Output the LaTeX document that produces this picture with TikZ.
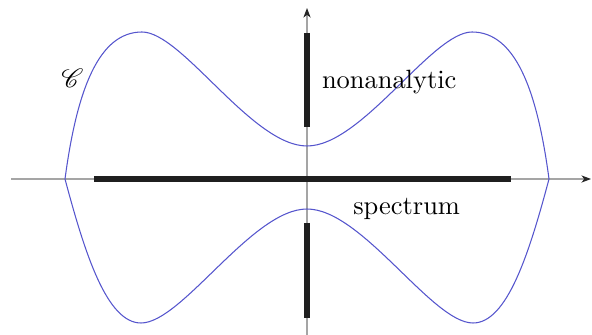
\documentclass[tikz,border=0pt]{standalone}
\usepackage{mathrsfs}
\usetikzlibrary{arrows.meta}
\definecolor{curveblue}{RGB}{85,85,205}
\definecolor{axisgray}{RGB}{165,165,165}
\tikzset{
  axisline/.style={draw=axisgray, line width=0.45pt, -{Stealth[length=3.6pt,width=2.7pt,inset=1pt,color=black!85]}},
  hbar/.style={line width=2.6pt, draw=black!88},
  vbar/.style={line width=2.2pt, draw=black!88},
  contour/.style={draw=curveblue, line width=0.4pt},
  lbl/.style={inner sep=0pt, anchor=base west},
}
\begin{document}
\begin{tikzpicture}[x=0.3785pt,y=-0.3785pt]
\useasboundingbox (0,0) rectangle (592,335);
\coordinate (O) at (307,179);
\coordinate (xs) at (11,179);
\coordinate (xe) at (591,179);
\coordinate (ys) at (307,340);
\coordinate (ye) at (307,8);
\draw[axisline] (xs) -- (xe);
\draw[axisline] (ys) -- (ye);
\begin{scope}[shift={(O)}, yscale=-1]
\draw[contour] (-242,0) .. controls (-230,90) and (-208,147) .. (-165,147)
  .. controls (-125,147) and (-55,33) .. (0,33)
  .. controls (55,33) and (125,147) .. (165,147)
  .. controls (208,147) and (230,90) .. (242,0)
  .. controls (222,-75) and (200,-144) .. (166,-144)
  .. controls (125,-144) and (55,-30) .. (0,-30)
  .. controls (-55,-30) and (-125,-144) .. (-166,-144)
  .. controls (-200,-144) and (-222,-75) .. (-242,0) -- cycle;
\end{scope}
\coordinate (h1) at (94,179);
\coordinate (h2) at (511,179);
\coordinate (u1) at (307,33);
\coordinate (u2) at (307,127);
\coordinate (d1) at (307,223);
\coordinate (d2) at (307,318);
\draw[hbar] (h1) -- (h2);
\draw[vbar] (u1) -- (u2);
\draw[vbar] (d1) -- (d2);
\node[lbl] (nonan) at (321.5,88.3) {nonanalytic};
\node[lbl] (spec) at (352.8,214.3) {spectrum};
\node[inner sep=0pt] (C) at (72.5,78.5) {$\mathscr{C}$};
\end{tikzpicture}
\end{document}
